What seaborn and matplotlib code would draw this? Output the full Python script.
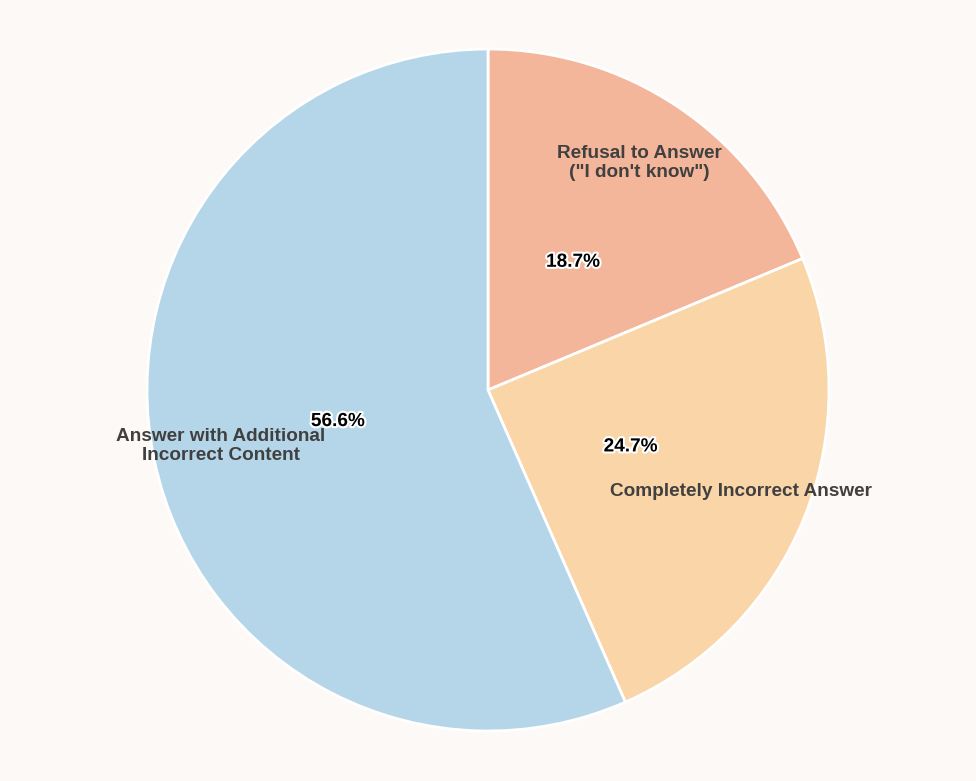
import numpy as np
import matplotlib.pyplot as plt
import matplotlib.patheffects as pe
import seaborn as sns

categories = ['Refusal to Answer\n("I don\'t know")',
              'Completely Incorrect Answer',
              'Answer with Additional\nIncorrect Content']
shares = [18.7, 24.7, 56.6]
colors = ['#F4B69A', '#F9D5A7', '#B5D6E8']

sns.set_theme(style='white')
plt.rcParams['font.family'] = ['Liberation Sans', 'DejaVu Sans']

bg = '#FDF9F6'
fig = plt.figure(figsize=(9.76, 7.81), dpi=100, facecolor=bg)
ax = fig.add_axes([0, 0, 1, 1])
ax.set_facecolor(bg)

wedges, texts, autotexts = ax.pie(
    shares, labels=categories, colors=colors, startangle=90,
    counterclock=False, autopct='%1.1f%%', pctdistance=0.45,
    labeldistance=0.8,
    wedgeprops=dict(edgecolor='white', linewidth=2),
    textprops=dict(fontsize=13.7, fontweight='bold', color='#404040'))

for t in texts:
    t.set_horizontalalignment('center')
    t.set_multialignment('center')
for t in autotexts:
    t.set_color('black')
    t.set_path_effects([pe.withStroke(linewidth=3, foreground='white')])

r = 341.0
ax.set_xlim(-488 / r, 488 / r)
ax.set_ylim(-391 / r, 390 / r)
ax.set_aspect('equal')
ax.axis('off')

fig.savefig('out.png', dpi=100, facecolor=bg)
